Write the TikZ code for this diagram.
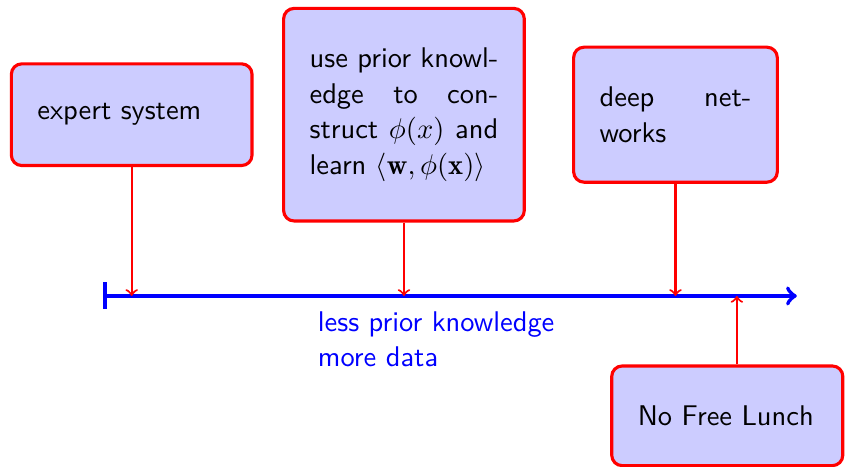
\documentclass[tikz,border=0pt,11pt]{standalone}
\usepackage{fontspec}
\usepackage{amsmath}
\usetikzlibrary{calc}
\tikzset{%
    idea/.style={
		draw=red,
		very thick,
		fill=blue!20,
		rounded corners=4pt,
		inner xsep=10pt,
		inner ysep=15.3pt,
		align=justify,
		font=\sffamily
	}
}
\tikzset{pointer/.style={->, red, thick}}

\begin{document}
\begin{tikzpicture}
		\useasboundingbox (0,0) rectangle (11.57,-6.31);

		% Approaches, from much knowledge to much data
		\node[idea, text width=2.55cm] (expert) at (1.78,-1.55) {expert system};
		\node[idea, text width=2.55cm] (prior) at (5.46,-1.55) {use prior knowledge to construct $\phi(x)$ and learn $\langle \mathbf{w}, \phi(\mathbf{x}) \rangle$};
		\node[idea, text width=2.05cm] (deep) at (9.13,-1.55) {deep networks};
		\node[idea, text width=2.42cm] (lunch) at (9.83,-5.62) {No Free Lunch};

		% The axis
		\coordinate (start) at (1.39,-4);	\coordinate (end) at (10.77,-4);
		\coordinate (nfl) at (9.96,-4);
		\draw[blue, ultra thick, |->] (start) -- (end);
		\node[blue, font=\sffamily, align=left, anchor=north west, inner sep=0pt] (less) at (4.29,-4.2) {less prior knowledge\\more data};

		\draw[pointer] (expert) -- (expert |- start);
		\draw[pointer] (prior) -- (prior |- start);
		\draw[pointer] (deep) -- (deep |- start);
		\draw[pointer] (lunch.north -| nfl) -- (nfl);
	\end{tikzpicture}
\end{document}
